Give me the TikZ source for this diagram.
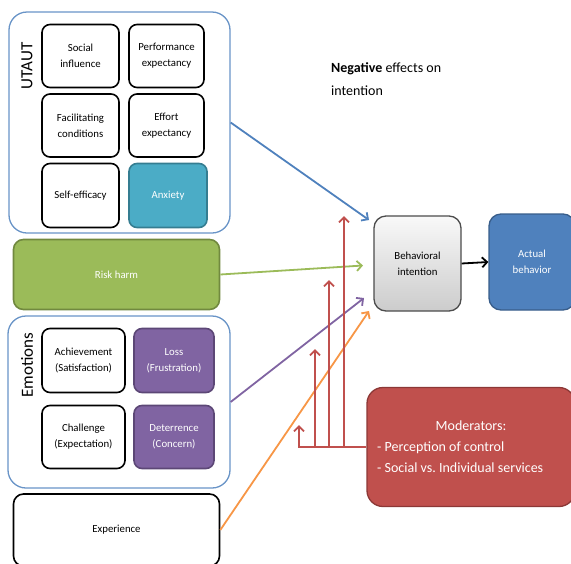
\documentclass[tikz,border=0pt]{standalone}
\usepackage{fontspec}
\setmainfont{Carlito}
\usetikzlibrary{arrows.meta}
\definecolor{ublue}{HTML}{4F81BD}
\definecolor{udark}{HTML}{385D8A}
\definecolor{uteal}{HTML}{4BACC6}
\definecolor{utealdk}{HTML}{357D91}
\definecolor{ugreen}{HTML}{9BBB59}
\definecolor{ugreendk}{HTML}{71893F}
\definecolor{upurple}{HTML}{8064A2}
\definecolor{upurpledk}{HTML}{5C4776}
\definecolor{ured}{HTML}{C0504D}
\definecolor{ureddk}{HTML}{8C3836}
\definecolor{uorange}{HTML}{F79646}
\tikzset{
  group/.style={draw=ublue!85, line width=1.3pt, rounded corners=18pt},
  factor/.style={draw=black, line width=1.6pt, rounded corners=8pt, fill=white,
    align=center, font=\fontsize{10.8}{16}\selectfont},
  tealbox/.style={factor, draw=utealdk, fill=uteal, text=white!85},
  purplebox/.style={factor, draw=upurpledk, fill=upurple, text=white!85},
  wide/.style={draw, line width=1.6pt, rounded corners=10pt, font=\fontsize{10.8}{16}\selectfont},
  grouplabel/.style={rotate=90, font=\fontsize{17}{20}\selectfont},
  flow/.style={line width=1.8pt, -{Straight Barb[length=5pt,width=10pt]}},
  modline/.style={draw=ured},
}
\begin{document}
\begin{tikzpicture}[x=1pt,y=-1pt]
\useasboundingbox (0,0) rectangle (571,563);
\clip (0,0) rectangle (571,563);

% UTAUT group
\node[group, minimum width=221pt, minimum height=221pt] (utaut) at (119.5,122.5) {};
\node[grouplabel] (utautlbl) at (27,66) {UTAUT};
\node[factor, minimum width=77pt, minimum height=63pt] (soc) at (80.5,56) {Social\\influence};
\node[factor, minimum width=75pt, minimum height=63pt] (perf) at (166.5,56) {Performance\\expectancy};
\node[factor, minimum width=77pt, minimum height=63pt] (fac) at (80.5,125.5) {Facilitating\\conditions};
\node[factor, minimum width=75pt, minimum height=63pt] (eff) at (166.5,125.5) {Effort\\expectancy};
\node[factor, minimum width=77pt, minimum height=64pt] (self) at (80.5,195.5) {Self-efficacy};
\node[tealbox, minimum width=78pt, minimum height=64pt] (anx) at (168,195.5) {Anxiety};

% Risk harm
\node[wide, draw=ugreendk, fill=ugreen, text=white!90, minimum width=206pt, minimum height=70pt] (risk) at (116.5,274.5) {Risk harm};

% Emotions group
\node[group, minimum width=222pt, minimum height=172pt] (emo) at (119,402) {};
\node[grouplabel] (emolbl) at (27,365) {Emotions};
\node[factor, minimum width=83pt, minimum height=64pt] (ach) at (83.5,360.5) {Achievement\\(Satisfaction)};
\node[purplebox, minimum width=80pt, minimum height=64pt] (loss) at (174,360.5) {Loss\\(Frustration)};
\node[factor, minimum width=83pt, minimum height=63pt] (chal) at (83.5,437) {Challenge\\(Expectation)};
\node[purplebox, minimum width=80pt, minimum height=63pt] (det) at (174,437) {Deterrence\\(Concern)};

% Experience
\node[wide, draw=black, fill=white, minimum width=206pt, minimum height=72pt] (exp) at (116.5,530) {Experience};

% Intention and behaviour
\node[draw=gray!60!black, line width=1.3pt, rounded corners=12pt, top color=gray!5, bottom color=gray!40,
  minimum width=87pt, minimum height=95pt, align=center, font=\fontsize{10.8}{16}\selectfont] (bi) at (417.5,263.5) {Behavioral\\intention};
\node[draw=udark, line width=1.3pt, rounded corners=12pt, fill=ublue, text=white!90,
  minimum width=86pt, minimum height=96pt, align=center, font=\fontsize{10.8}{16}\selectfont] (act) at (532,262) {Actual\\behavior};

% Moderators
\node[draw=ureddk, line width=1.3pt, rounded corners=16pt, fill=ured,
  minimum width=208pt, minimum height=119pt] (mod) at (471,447) {};
\node[text=white!92, font=\fontsize{14}{21}\selectfont] (modtitle) at (471,426) {Moderators:};
\node[text=white!92, anchor=west, align=left, inner sep=0pt, font=\fontsize{14}{21}\selectfont] (modlist) at (377,457.5) {- Perception of control\\- Social vs.\ Individual services};

% Heading
\node[anchor=west, align=left, inner sep=0pt, font=\fontsize{14}{23}\selectfont] (neg) at (331,79.5) {\textbf{Negative} effects on\\intention};

% Arrow tips near the intention box
\coordinate (tipU) at (369,220);
\coordinate (tipR) at (363,265.5);
\coordinate (tipE) at (364,298);
\coordinate (tipX) at (369,311);

\draw[flow, ublue] (utaut.east) -- (tipU);
\draw[flow, ugreen] (risk.east) -- (tipR);
\draw[flow, upurple] (emo.east) -- (tipE);
\draw[flow, uorange] (exp.east) -- (tipX);
\draw[flow, black] (bi.east) -- (act.west);

% Moderator branches
\coordinate (m0) at (299,425);
\coordinate (b1) at (315,447);
\coordinate (b1t) at (315,349);
\coordinate (b2) at (329,447);
\coordinate (b2t) at (329,280);
\coordinate (b3) at (344,447);
\coordinate (b3t) at (344,216);
\draw[flow, modline] (mod.west) -| (m0);
\draw[flow, modline] (b1) -- (b1t);
\draw[flow, modline] (b2) -- (b2t);
\draw[flow, modline] (b3) -- (b3t);
\end{tikzpicture}
\end{document}
